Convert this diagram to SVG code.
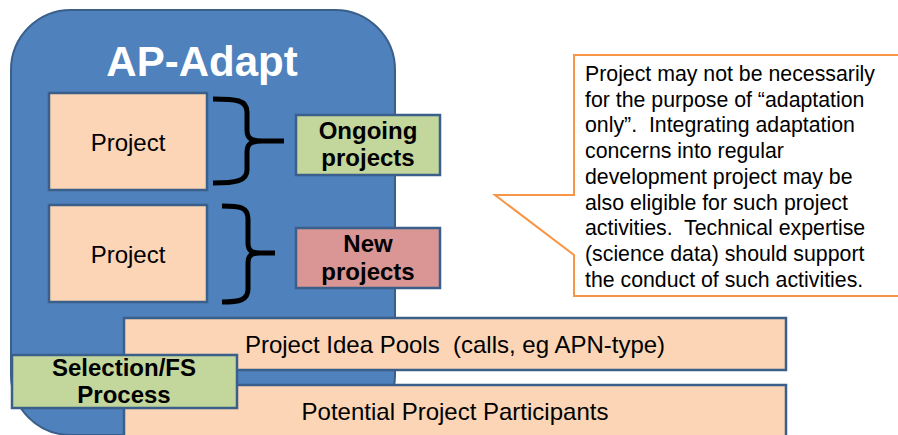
<svg xmlns="http://www.w3.org/2000/svg" width="898" height="435" viewBox="0 0 898 435">
<style>
  .box { stroke: #3A5F8B; stroke-width: 2.5; }
  .peach { fill: #FBD5B5; }
  .green { fill: #C3D69B; }
  .red { fill: #D99694; }
  .t { font-family: "Liberation Sans", Arial, sans-serif; fill: #000; white-space: pre; }
  .b { font-weight: bold; }
  .c { text-anchor: middle; }
  .brace { fill: none; stroke: #000; stroke-width: 5; }
</style>
<rect width="898" height="435" fill="#fff"/>
<g id="ap-adapt">
  <rect x="11" y="10" width="384" height="425" rx="60" ry="60" fill="#4F81BD" stroke="#3A5F8B" stroke-width="2"/>
  <text class="t b c" x="202" y="76" font-size="42" style="fill:#fff">AP-Adapt</text>
</g>
<g id="project1">
  <rect class="box peach" x="49" y="93" width="158" height="97"/>
  <text class="t c" x="128" y="151" font-size="24">Project</text>
</g>
<g id="project2">
  <rect class="box peach" x="49" y="205" width="158" height="97"/>
  <text class="t c" x="128" y="263" font-size="24">Project</text>
</g>
<g id="connectors">
  <path class="brace" d="M213,99 C236,99 247,100 247,112 L247,130 C247,139 252,141 262,141 L284,141 M262,141 C252,141 247,143 247,152 L247,170 C247,181 236,183 213,183"/>
  <path class="brace" d="M222,206 C240,206 248,207 248,219 L248,243 C248,251 252,253 260,253 L275,253 M260,253 C252,253 248,255 248,263 L248,289 C248,300 240,302 222,302"/>
</g>
<g id="ongoing">
  <rect class="box green" x="296" y="115" width="144" height="60"/>
  <text class="t b c" x="368" y="139" font-size="24">Ongoing</text>
  <text class="t b c" x="368" y="166" font-size="24">projects</text>
</g>
<g id="new">
  <rect class="box red" x="296" y="228" width="144" height="60"/>
  <text class="t b c" x="368" y="252" font-size="24">New</text>
  <text class="t b c" x="368" y="280" font-size="24">projects</text>
</g>
<g id="idea-pools">
  <rect class="box peach" x="124" y="318" width="662" height="52"/>
  <text class="t c" x="455" y="353" font-size="24" xml:space="preserve">Project Idea Pools  (calls, eg APN-type)</text>
</g>
<g id="participants">
  <rect class="box peach" x="124" y="385" width="662" height="60"/>
  <text class="t c" x="455" y="420" font-size="24">Potential Project Participants</text>
</g>
<g id="selection">
  <rect class="box green" x="12" y="355" width="225" height="53"/>
  <text class="t b c" x="124" y="376" font-size="24">Selection/FS</text>
  <text class="t b c" x="124" y="403" font-size="24">Process</text>
</g>
<g id="callout">
  <path d="M574,55 L900,55 L900,296 L574,296 L574,255 L495,195 L574,195 Z" fill="#fff" stroke="#F79646" stroke-width="2"/>
  <g class="t" font-size="21.3">
    <text x="585" y="81">Project may not be necessarily</text>
    <text x="585" y="107">for the purpose of “adaptation</text>
    <text x="585" y="132" xml:space="preserve">only”.  Integrating adaptation</text>
    <text x="585" y="158">concerns into regular</text>
    <text x="585" y="184">development project may be</text>
    <text x="585" y="210">also eligible for such project</text>
    <text x="585" y="235" xml:space="preserve">activities.  Technical expertise</text>
    <text x="585" y="261">(science data) should support</text>
    <text x="585" y="287">the conduct of such activities.</text>
  </g>
</g>
</svg>
